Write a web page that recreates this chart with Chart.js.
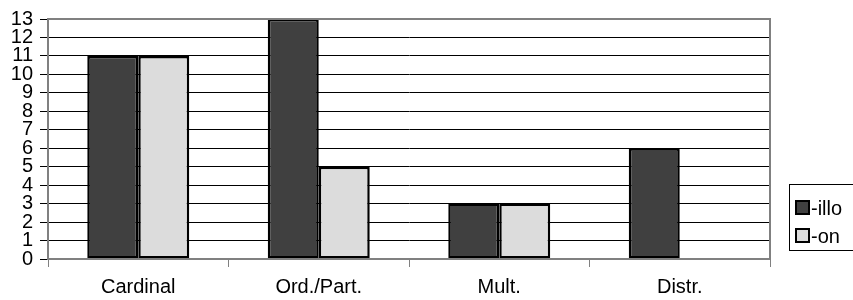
<!DOCTYPE html>
<html>
<head>
<meta charset="utf-8">
<script src="https://cdn.jsdelivr.net/npm/chart.js@4"></script>
<style>
  html, body { margin: 0; padding: 0; background: #fff; }
  #wrap { width: 853px; height: 300px; position: relative; }
</style>
</head>
<body>
<div id="wrap"><canvas id="barChart"></canvas></div>
<script>
var categories = ['Cardinal', 'Ord./Part.', 'Mult.', 'Distr.'];
var illoValues = [11, 13, 3, 6];
var onValues = [11, 5, 3, 0];
var seriesNames = ['-illo', '-on'];

// box around plot area + legend box on the right
var framePlugin = {
    id: 'frame',
    afterDraw: function (chart) {
        var ctx = chart.ctx;
        var a = chart.chartArea;
        ctx.save();
        ctx.strokeStyle = '#808080';
        ctx.lineWidth = 2;
        ctx.strokeRect(a.left, a.top, a.right - a.left, a.bottom - a.top);

        // legend
        ctx.strokeStyle = '#000';
        ctx.lineWidth = 1;
        ctx.strokeRect(789.5, 184.5, 80, 66);
        ctx.font = '20px "Liberation Sans", Arial, sans-serif';
        ctx.textBaseline = 'middle';
        ctx.fillStyle = '#000';
        chart.data.datasets.forEach(function (ds, i) {
            var cy = 208 + i * 28;
            ctx.fillStyle = ds.backgroundColor;
            ctx.fillRect(796, cy - 7, 13, 13);
            ctx.strokeStyle = '#000';
            ctx.lineWidth = 2;
            ctx.strokeRect(796, cy - 7, 13, 13);
            ctx.fillStyle = '#000';
            ctx.fillText(ds.label, 811, cy + 1);
        });
        ctx.restore();
    }
};

document.addEventListener('DOMContentLoaded', function () {
    var ctx = document.getElementById('barChart').getContext('2d');

    var barChart = new Chart(ctx, {
        type: 'bar',
        data: {
            labels: categories,
            datasets: [{
                label: seriesNames[0],
                data: illoValues,
                backgroundColor: '#404040',
                borderColor: '#000',
                borderWidth: 2.5,
                borderSkipped: false
            }, {
                label: seriesNames[1],
                data: onValues,
                backgroundColor: '#dcdcdc',
                borderColor: '#000',
                borderWidth: 2.5,
                borderSkipped: false
            }]
        },
        options: {
            responsive: true,
            maintainAspectRatio: false,
            animation: false,
            events: [],
            layout: { padding: { top: 19, right: 83, left: 0, bottom: 0 } },
            datasets: {
                bar: { categoryPercentage: 0.565, barPercentage: 1.0 }
            },
            plugins: {
                legend: { display: false },
                tooltip: { enabled: false }
            },
            scales: {
                x: {
                    offset: true,
                    grid: {
                        offset: true,
                        drawOnChartArea: false,
                        color: '#808080',
                        tickLength: 8
                    },
                    border: { color: '#808080', width: 2 },
                    ticks: {
                        color: '#000',
                        padding: 8,
                        font: { family: '"Liberation Sans", Arial, sans-serif', size: 20 }
                    },
                    afterFit: function (scale) { scale.height = 41; }
                },
                y: {
                    min: 0,
                    max: 13,
                    grid: {
                        color: '#000',
                        lineWidth: 1,
                        tickLength: 8
                    },
                    border: { color: '#808080', width: 2 },
                    ticks: {
                        stepSize: 1,
                        autoSkip: false,
                        color: '#000',
                        padding: 7,
                        font: { family: '"Liberation Sans", Arial, sans-serif', size: 20 }
                    },
                    afterFit: function (scale) { scale.width = 48; }
                }
            }
        },
        plugins: [framePlugin]
    });
});
</script>
</body>
</html>
